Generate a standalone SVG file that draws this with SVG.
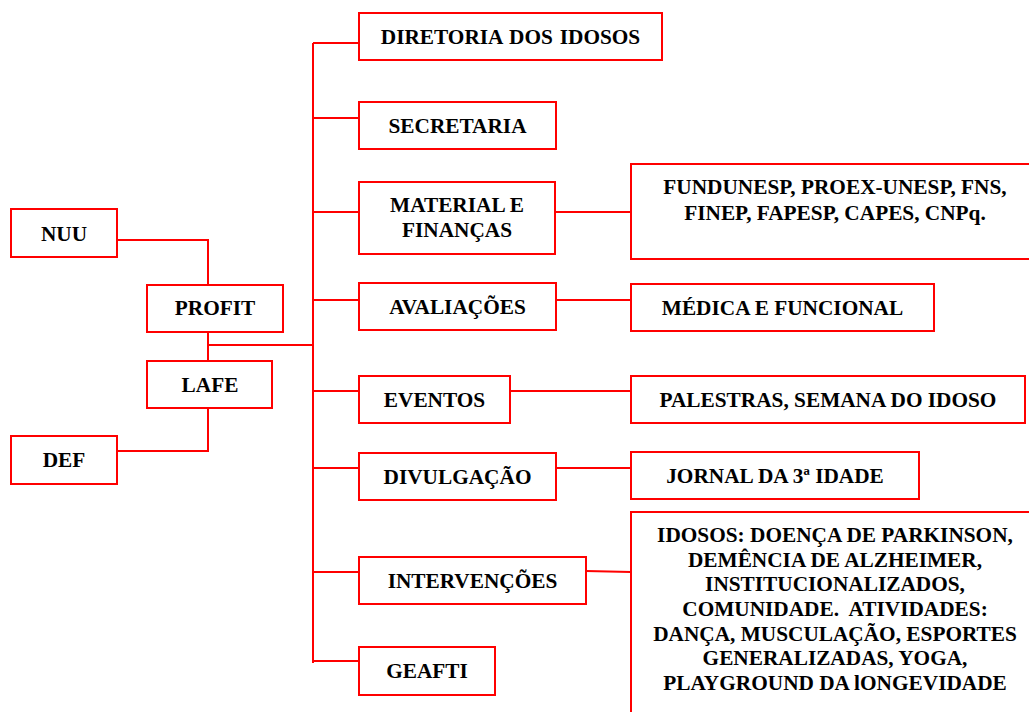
<svg xmlns="http://www.w3.org/2000/svg" width="1029" height="712" viewBox="0 0 1029 712">
<style>
.box{fill:#fff;stroke:#ff0000;stroke-width:2}
.ln{fill:none;stroke:#ff0000;stroke-width:2}
</style>
<rect width="1029" height="712" fill="#fff"/>
<g id="connectors">
<path class="ln" d="M117 240 H208 V285"/>
<path class="ln" d="M208 332 V361"/>
<path class="ln" d="M208 345 H313"/>
<path class="ln" d="M208 408 V451 H117"/>
<path class="ln" d="M313 43 V663"/>
<path class="ln" d="M313 43 H359 M313 118 H359 M313 212 H359 M313 300 H359 M313 391 H359 M313 468 H359 M313 572 H359 M313 661 H359"/>
<path class="ln" d="M555 212 H631 M556 300 H631 M510 391 H631 M556 468 H631 M586 571 L631 572"/>
</g>
<g id="nuu"><rect class="box" x="11" y="209" width="106" height="48"/><text x="64" y="241" font-family="Liberation Serif" font-weight="bold" font-size="21.3" text-anchor="middle">NUU</text></g>
<g id="profit"><rect class="box" x="147" y="285" width="136" height="47"/><text x="215" y="315" font-family="Liberation Serif" font-weight="bold" font-size="21.3" text-anchor="middle">PROFIT</text></g>
<g id="lafe"><rect class="box" x="147" y="361" width="125" height="47"/><text x="210" y="392" font-family="Liberation Serif" font-weight="bold" font-size="21.3" text-anchor="middle">LAFE</text></g>
<g id="def"><rect class="box" x="11" y="436" width="106" height="48"/><text x="64" y="467" font-family="Liberation Serif" font-weight="bold" font-size="21.3" text-anchor="middle">DEF</text></g>
<g id="diretoria"><rect class="box" x="359" y="13" width="303" height="47"/><text x="510.5" y="44" font-family="Liberation Serif" font-weight="bold" font-size="21.3" text-anchor="middle" word-spacing="1.5">DIRETORIA DOS IDOSOS</text></g>
<g id="secretaria"><rect class="box" x="359" y="102" width="197" height="47"/><text x="457.5" y="133" font-family="Liberation Serif" font-weight="bold" font-size="21.3" text-anchor="middle">SECRETARIA</text></g>
<g id="material"><rect class="box" x="359" y="182" width="196" height="72"/><text x="457" y="212" font-family="Liberation Serif" font-weight="bold" font-size="21.3" text-anchor="middle">MATERIAL E</text><text x="457" y="237" font-family="Liberation Serif" font-weight="bold" font-size="21.3" text-anchor="middle">FINANÇAS</text></g>
<g id="avaliacoes"><rect class="box" x="359" y="283" width="197" height="47"/><text x="457.5" y="314" font-family="Liberation Serif" font-weight="bold" font-size="21.3" text-anchor="middle">AVALIAÇÕES</text></g>
<g id="eventos"><rect class="box" x="359" y="376" width="151" height="47"/><text x="434.5" y="407" font-family="Liberation Serif" font-weight="bold" font-size="21.3" text-anchor="middle">EVENTOS</text></g>
<g id="divulgacao"><rect class="box" x="359" y="453" width="197" height="47"/><text x="457.5" y="484" font-family="Liberation Serif" font-weight="bold" font-size="21.3" text-anchor="middle">DIVULGAÇÃO</text></g>
<g id="intervencoes"><rect class="box" x="359" y="557" width="227" height="47"/><text x="472.5" y="588" font-family="Liberation Serif" font-weight="bold" font-size="21.3" text-anchor="middle">INTERVENÇÕES</text></g>
<g id="geafti"><rect class="box" x="359" y="647" width="136" height="48"/><text x="427" y="678" font-family="Liberation Serif" font-weight="bold" font-size="21.3" text-anchor="middle">GEAFTI</text></g>
<g id="fundunesp"><rect class="box" x="631" y="164" width="420" height="95"/><text x="835" y="194" font-family="Liberation Serif" font-weight="bold" font-size="21.3" text-anchor="middle">FUNDUNESP, PROEX-UNESP, FNS,</text><text x="835" y="220" font-family="Liberation Serif" font-weight="bold" font-size="21.3" text-anchor="middle">FINEP, FAPESP, CAPES, CNPq.</text></g>
<g id="medica"><rect class="box" x="631" y="284" width="303" height="47"/><text x="782.5" y="315" font-family="Liberation Serif" font-weight="bold" font-size="21.3" text-anchor="middle">MÉDICA E FUNCIONAL</text></g>
<g id="palestras"><rect class="box" x="631" y="376" width="394" height="47"/><text x="828" y="407" font-family="Liberation Serif" font-weight="bold" font-size="21.3" text-anchor="middle">PALESTRAS, SEMANA DO IDOSO</text></g>
<g id="jornal"><rect class="box" x="631" y="452" width="288" height="47"/><text x="775" y="483" font-family="Liberation Serif" font-weight="bold" font-size="21.3" text-anchor="middle">JORNAL DA 3ª IDADE</text></g>
<g id="idosos"><rect class="box" x="631" y="512" width="420" height="220"/>
<text x="835" y="542" font-family="Liberation Serif" font-weight="bold" font-size="21.3" text-anchor="middle">IDOSOS: DOENÇA DE PARKINSON,</text>
<text x="835" y="566.5" font-family="Liberation Serif" font-weight="bold" font-size="21.3" text-anchor="middle">DEMÊNCIA DE ALZHEIMER,</text>
<text x="835" y="591" font-family="Liberation Serif" font-weight="bold" font-size="21.3" text-anchor="middle">INSTITUCIONALIZADOS,</text>
<text x="835" y="616" font-family="Liberation Serif" font-weight="bold" font-size="21.3" text-anchor="middle" xml:space="preserve">COMUNIDADE.  ATIVIDADES:</text>
<text x="835" y="640.5" font-family="Liberation Serif" font-weight="bold" font-size="21.3" text-anchor="middle">DANÇA, MUSCULAÇÃO, ESPORTES</text>
<text x="835" y="665" font-family="Liberation Serif" font-weight="bold" font-size="21.3" text-anchor="middle">GENERALIZADAS, YOGA,</text>
<text x="835" y="690" font-family="Liberation Serif" font-weight="bold" font-size="21.3" text-anchor="middle">PLAYGROUND DA lONGEVIDADE</text>
</g>
</svg>
